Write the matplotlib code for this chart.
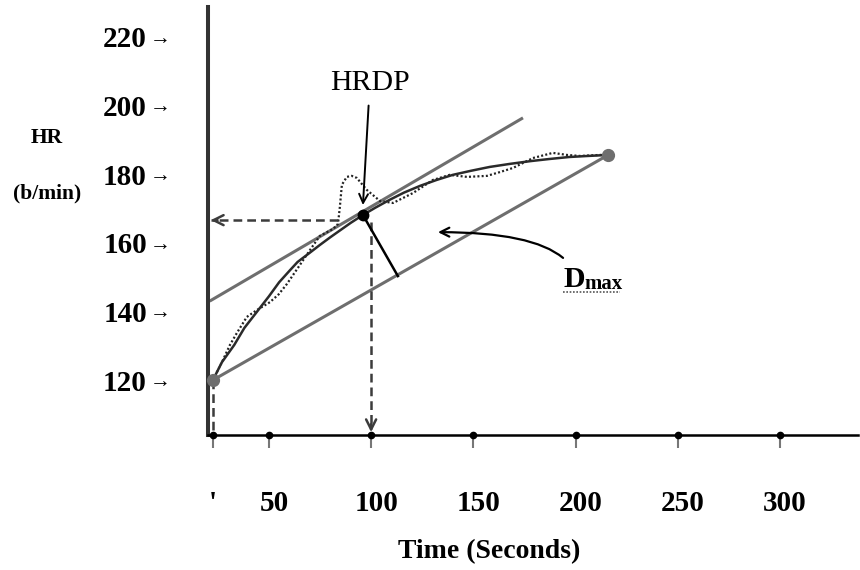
import matplotlib
matplotlib.use('Agg')
import matplotlib.pyplot as plt
import matplotlib.transforms as mtransforms

plt.rcParams['font.family'] = ['Liberation Serif', 'DejaVu Serif']

# Courbe lissée (temps en s, FC en b/min)
t_smooth = [22.6, 27, 33, 38, 44, 50, 55, 60, 64, 70, 75, 80, 85, 90, 96, 102, 109, 116, 124, 132,
            140, 149, 158, 168, 178, 187, 197, 206, 216]
hr_smooth = [120, 125.2, 130.2, 135.2, 139.8, 144.4, 148.5, 151.8, 154.4, 157.1, 159.4, 161.6, 163.7,
             165.8, 168.1, 170.2, 172.5, 174.6, 176.6, 178.3, 179.8, 181.0, 182.1, 183.0, 183.8, 184.4,
             185.0, 185.3, 185.6]

# Relevé brut (pointillés)
t_raw = [22.6, 27.0, 30.9, 34.3, 39.2, 44.1, 50.5, 54.8, 58.8, 64.2, 70.1, 74.9, 81.3, 83.8, 84.7,
         85.7, 88.1, 90.5, 93.0, 97.9, 104.3, 110.7, 120.5, 130.2, 138.5, 146.9, 156.7, 163.0, 169.4,
         179.2, 188.9, 195.8, 202.2, 211.9, 216]
hr_raw = [120, 125.2, 130.2, 133.7, 138.4, 140.4, 142.7, 145.0, 148.0, 152.7, 157.9, 162.0, 164.0,
          165.5, 170.4, 176.9, 179.2, 179.5, 178.9, 175.4, 172.2, 171.6, 174.5, 178.3, 179.8, 179.2,
          179.5, 180.6, 181.8, 184.7, 186.2, 185.6, 185.3, 185.6, 185.6]

# Droites
tangent_t = [21.0, 174.3]
tangent_hr = [143.0, 196.4]
chord_t = [22.6, 216]
chord_hr = [120, 185.6]
dmax_t = [96.0, 113.1]
dmax_hr = [168.1, 150.3]

# Point de déflexion
hrdp_t = 96.0
hrdp_hr = 168.1
hrdp_proj_t = 100
hrdp_proj_hr = 166.6

x_ticks = [22.6, 50, 100, 150, 200, 250, 300]
x_labels = ["'", '50', '100', '150', '200', '250', '300']
y_ticks = [120, 140, 160, 180, 200, 220]
y_labels = ['120', '140', '160', '180', '200', '220']

xmin, xmax = 20.2, 338.2
ymin, ymax = 104.0, 228.7

fig = plt.figure(figsize=(8.6, 5.7), dpi=100)
ax = fig.add_axes([208 / 860, 1 - 435 / 570, 650 / 860, 428 / 570])
ax.set_xlim(xmin, xmax)
ax.set_ylim(ymin, ymax)

gray = '#6e6e6e'
dark = '#2a2a2a'
dash = '#3c3c3c'

ax.plot(tangent_t, tangent_hr, color=gray, lw=2.2, solid_capstyle='butt', zorder=2)
ax.plot(chord_t, chord_hr, color=gray, lw=2.2, solid_capstyle='butt', zorder=2)
ax.plot(t_raw, hr_raw, color='#222222', lw=1.6, ls=(0, (0.9, 1.0)), zorder=3)
ax.plot(t_smooth, hr_smooth, color=dark, lw=1.8, zorder=4)
ax.plot(dmax_t, dmax_hr, color='black', lw=1.8, zorder=4)

# pointillés de projection
ax.plot([t_raw[13], xmin + 1.5], [hrdp_proj_hr, hrdp_proj_hr], color=dash, lw=1.8, ls=(0, (3.5, 2)), zorder=3)
ax.annotate('', xy=(xmin, hrdp_proj_hr), xytext=(xmin + 6, hrdp_proj_hr),
            arrowprops=dict(arrowstyle='->', color=dash, lw=1.8, mutation_scale=18), zorder=3)
ax.plot([hrdp_proj_t, hrdp_proj_t], [166.1, ymin + 2], color=dash, lw=1.8, ls=(0, (3.5, 2)), zorder=3)
ax.annotate('', xy=(hrdp_proj_t, ymin), xytext=(hrdp_proj_t, ymin + 4),
            arrowprops=dict(arrowstyle='->', color=dash, lw=1.8, mutation_scale=18), zorder=3)
ax.plot([chord_t[0], chord_t[0]], [chord_hr[0], ymin], color=dash, lw=1.8, ls=(0, (3.5, 2)), zorder=3)

ax.plot([chord_t[0], chord_t[1]], [chord_hr[0], chord_hr[1]], 'o', color=gray, ms=8.5,
        clip_on=False, zorder=5)
ax.plot([hrdp_t], [hrdp_hr], 'o', color='black', ms=7.5, zorder=6)

# annotations
ax.annotate('HRDP', xy=(hrdp_t, 171.0), xytext=(99.4, 206.6), ha='center', va='center',
            fontsize=21.5, arrowprops=dict(arrowstyle='->', color='black', lw=1.4,
                                           mutation_scale=16, shrinkA=5, shrinkB=0))
ax.annotate('', xy=(132.7, 163.1), xytext=(193.9, 155.6),
            arrowprops=dict(arrowstyle='->', color='black', lw=1.6, mutation_scale=16,
                            connectionstyle='angle3,angleA=-40,angleB=0', shrinkA=0, shrinkB=0))
ax.text(194.3, 147.1, 'D', fontsize=21.5, fontweight='bold', ha='left', va='baseline')
ax.text(204.4, 146.4, 'max', fontsize=15, fontweight='bold', ha='left', va='baseline')
ax.plot([194.0, 221.7], [145.6, 145.6], color='#555555', lw=1.2, ls=(0, (1, 1)))

# axes
for s in ['top', 'right']:
    ax.spines[s].set_visible(False)
ax.spines['left'].set_color('#333333')
ax.spines['left'].set_linewidth(2.9)
ax.spines['bottom'].set_color('black')
ax.spines['bottom'].set_linewidth(1.8)

ax.set_xticks(x_ticks)
ax.set_xticklabels(x_labels, fontsize=21, fontweight='bold')
ax.tick_params(axis='x', length=9.5, width=1.5, color='#777777', pad=30)
off = mtransforms.ScaledTranslation(0.05, 0, fig.dpi_scale_trans)
for lbl in ax.get_xticklabels()[1:]:
    lbl.set_transform(lbl.get_transform() + off)
ax.plot(x_ticks, [ymin] * len(x_ticks), 'o', color='black', ms=4.5, clip_on=False, zorder=6)

ax.set_yticks(y_ticks)
ax.set_yticklabels(y_labels, fontsize=21, fontweight='bold')
ax.tick_params(axis='y', length=0, pad=44)
for y in y_ticks:
    ax.annotate('→', xy=(0, y), xycoords=ax.get_yaxis_transform(), xytext=(-34.5, 0),
                textcoords='offset points', ha='center', va='center_baseline', fontsize=15)

fig.text(489 / 860, 1 - 552 / 570, 'Time (Seconds)', ha='center', va='center', fontsize=20,
         fontweight='bold')
fig.text(47 / 860, 1 - 138 / 570, 'HR', ha='center', va='center', fontsize=15.5, fontweight='bold')
fig.text(47 / 860, 1 - 193 / 570, '(b/min)', ha='center', va='center', fontsize=15.5,
         fontweight='bold')

fig.savefig('out.png', dpi=100)
